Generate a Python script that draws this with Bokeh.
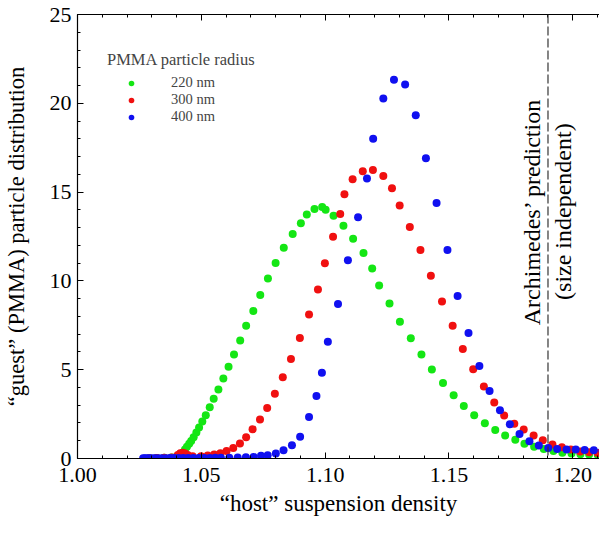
import math
from bokeh.plotting import figure
from bokeh.models import (FixedTicker, LinearAxis, Legend, LegendItem, Span, Label,
                          NumeralTickFormatter)
from bokeh.embed import file_html
from bokeh.resources import INLINE

# ---------------- data ----------------
green_x = [1.0290, 1.0320, 1.0350, 1.0380, 1.0400,
           1.0418, 1.0426, 1.0434, 1.0442, 1.0451, 1.0459, 1.0469, 1.0480, 1.0491,
           1.0504, 1.0518, 1.0534, 1.0550, 1.0569, 1.0589, 1.0610, 1.0632, 1.0657,
           1.0681, 1.0710, 1.0738, 1.0769, 1.0800, 1.0833, 1.0869, 1.0902, 1.0926,
           1.0957, 1.0988, 1.1002, 1.1034, 1.1074, 1.1113, 1.1155, 1.1190, 1.1218,
           1.1260, 1.1302, 1.1346, 1.1389, 1.1431, 1.1476, 1.1519, 1.1560, 1.1602,
           1.1645, 1.1687, 1.1727, 1.1768, 1.1805, 1.1844, 1.1883, 1.1922, 1.1958,
           1.1995, 1.2031, 1.2066, 1.2101, 1.2136, 1.2172]
green_y = [0.02, 0.03, 0.04, 0.06, 0.10,
           0.18, 0.33, 0.50, 0.66, 0.83, 0.99, 1.19, 1.47, 1.74,
           2.09, 2.44, 2.88, 3.36, 3.89, 4.50, 5.16, 5.85, 6.64,
           7.47, 8.31, 9.21, 10.13, 11.01, 11.87, 12.64, 13.25, 13.74,
           14.05, 14.16, 14.00, 13.67, 13.10, 12.38, 11.57, 10.70, 9.74,
           8.73, 7.70, 6.77, 5.85, 5.01, 4.25, 3.56, 2.95, 2.44,
           1.98, 1.61, 1.30, 1.05, 0.83, 0.66, 0.53, 0.42, 0.33,
           0.28, 0.24, 0.22, 0.20, 0.18, 0.17]

red_x = [1.0290, 1.0320, 1.0350, 1.0380, 1.0405, 1.0415, 1.0425, 1.0435, 1.0445,
         1.0465, 1.0499, 1.0526, 1.0552, 1.0577, 1.0602, 1.0629, 1.0656, 1.0681,
         1.0707, 1.0737, 1.0766, 1.0797, 1.0829, 1.0862, 1.0898, 1.0935, 1.0971,
         1.0999, 1.1032, 1.1061, 1.1078, 1.1111, 1.1152, 1.1193, 1.1235, 1.1270,
         1.1301, 1.1342, 1.1385, 1.1427, 1.1472, 1.1515, 1.1556, 1.1598, 1.1641,
         1.1683, 1.1723, 1.1764, 1.1802, 1.1842, 1.1879, 1.1918, 1.1956, 1.1992,
         1.2030, 1.2066, 1.2101, 1.2136, 1.2165]
red_y = [0.02, 0.03, 0.04, 0.06, 0.20, 0.30, 0.32, 0.28, 0.20,
         0.13, 0.13, 0.17, 0.22, 0.29, 0.42, 0.59, 0.84, 1.19,
         1.65, 2.20, 2.85, 3.65, 4.58, 5.60, 6.79, 8.11, 9.52,
         10.99, 12.48, 13.76, 14.88, 15.72, 16.18, 16.24, 15.91, 15.21,
         14.24, 13.04, 11.74, 10.29, 8.84, 7.48, 6.16, 5.02, 4.06,
         3.15, 2.42, 1.96, 1.63, 1.30, 1.03, 0.79, 0.64, 0.50,
         0.40, 0.35, 0.31, 0.29, 0.28]

blue_x = [1.0265, 1.0272, 1.0280, 1.0290, 1.0300, 1.0312, 1.0325, 1.0340, 1.0356,
          1.0373, 1.0390, 1.0408, 1.0427, 1.0447, 1.0468, 1.0490, 1.0512, 1.0534,
          1.0556, 1.0579, 1.0613, 1.0647, 1.0680, 1.0711, 1.0741, 1.0768, 1.0801,
          1.0832, 1.0866, 1.0899, 1.0935, 1.0965, 1.0987, 1.1011, 1.1052, 1.1092,
          1.1133, 1.1169, 1.1194, 1.1235, 1.1278, 1.1323, 1.1366, 1.1407, 1.1450,
          1.1494, 1.1535, 1.1579, 1.1623, 1.1664, 1.1706, 1.1746, 1.1785, 1.1825,
          1.1863, 1.1901, 1.1937, 1.1975, 1.2012, 1.2048, 1.2085, 1.2120, 1.2155]
blue_y = [0.02, 0.02, 0.02, 0.02, 0.02, 0.02, 0.02, 0.02, 0.02,
          0.03, 0.03, 0.03, 0.03, 0.03, 0.03, 0.03, 0.03, 0.03,
          0.04, 0.04, 0.04, 0.06, 0.07, 0.09, 0.15, 0.18, 0.28,
          0.46, 0.75, 1.23, 2.33, 3.52, 4.83, 6.57, 8.70, 11.16,
          13.59, 15.76, 18.01, 20.27, 21.32, 21.06, 19.33, 16.91, 14.38,
          11.74, 9.15, 7.07, 5.21, 3.80, 2.71, 1.93, 1.38, 0.97,
          0.73, 0.59, 0.53, 0.51, 0.50, 0.48, 0.46, 0.44, 0.42]

series_labels = ["220 nm", "300 nm", "400 nm"]
series_colors = ["#14e614", "#f01010", "#1010f0"]
legend_title = "PMMA particle radius"

x_major_ticks = [1.00, 1.05, 1.10, 1.15, 1.20]
x_minor_ticks = [round(1.00 + 0.01 * i, 2) for i in range(23)]
y_major_ticks = [0, 5, 10, 15, 20, 25]
y_minor_ticks = list(range(0, 26))

archimedes_density = 1.19
annot_line1 = "Archimedes\u2019 prediction"
annot_line2 = "(size independent)"
x_label = "\u201chost\u201d suspension density"
y_label = "\u201cguest\u201d (PMMA) particle distribution"

FONT = "Liberation Serif"

# ---------------- figure ----------------
p = figure(width=599, height=518, x_range=(1.0, 1.2108), y_range=(0, 25),
           output_backend="svg", toolbar_location=None,
           min_border_left=76, min_border_right=0, min_border_top=14,
           min_border_bottom=58)
p.outline_line_color = None
p.xgrid.grid_line_color = None
p.ygrid.grid_line_color = None
p.background_fill_color = "white"
p.border_fill_color = "white"


def style_axis(ax):
    ax.major_tick_in = 6
    ax.major_tick_out = 0
    ax.minor_tick_in = 3
    ax.minor_tick_out = 0
    ax.axis_line_color = "black"
    ax.axis_line_width = 1.2
    ax.major_tick_line_color = "black"
    ax.minor_tick_line_color = "black"
    ax.major_label_text_font = FONT
    ax.major_label_text_font_size = "22px"
    ax.major_label_text_color = "black"
    ax.axis_label_text_font = FONT
    ax.axis_label_text_font_size = "22px"
    ax.axis_label_text_font_style = "normal"
    ax.axis_label_text_color = "black"


xt = FixedTicker(ticks=x_major_ticks, minor_ticks=x_minor_ticks)
yt = FixedTicker(ticks=y_major_ticks, minor_ticks=y_minor_ticks)

xa = p.xaxis[0]
xa.ticker = xt
xa.formatter = NumeralTickFormatter(format="0.00")
style_axis(xa)
xa.major_label_standoff = 9
xa.axis_label = x_label
xa.axis_label_text_font_size = "23px"
xa.axis_label_standoff = 6

ya = p.yaxis[0]
ya.ticker = yt
style_axis(ya)
ya.major_label_standoff = 6
ya.axis_label = y_label
ya.axis_label_text_font_size = "22.5px"
ya.axis_label_standoff = 18

top = LinearAxis(ticker=xt)
style_axis(top)
top.major_label_overrides = {t: "" for t in x_major_ticks}
top.major_label_standoff = 0
p.add_layout(top, "above")

# dashed reference line
p.add_layout(Span(location=archimedes_density, dimension="height",
                  line_color="#333333", line_width=1.2, line_dash="9 3"))

# series
renderers = []
for xs, ys, c in zip([green_x, red_x, blue_x], [green_y, red_y, blue_y], series_colors):
    r = p.scatter(xs, ys, size=8, fill_color=c, line_color=None)
    renderers.append(r)

legend = Legend(items=[LegendItem(label=l, renderers=[r]) for l, r in zip(series_labels, renderers)],
                title=legend_title, location=(30, 333),
                margin=0, padding=0,
                background_fill_alpha=0, border_line_color=None,
                title_text_font=FONT, title_text_font_size="16.5px", title_text_font_style="normal",
                label_text_font=FONT, label_text_font_size="14.5px",
                glyph_width=48, glyph_height=14, label_height=14, label_standoff=16,
                spacing=0, title_standoff=4)
p.add_layout(legend)

# annotation text
p.add_layout(Label(x=archimedes_density - 0.0064, y=13.9, text=annot_line1, angle=math.pi / 2,
                   text_align="center", text_baseline="middle", text_font=FONT,
                   text_font_size="24px", text_color="black"))
p.add_layout(Label(x=archimedes_density + 0.0062, y=13.9, text=annot_line2, angle=math.pi / 2,
                   text_align="center", text_baseline="middle", text_font=FONT,
                   text_font_size="24px", text_color="black"))

open("out.html", "w").write(file_html(p, INLINE))
